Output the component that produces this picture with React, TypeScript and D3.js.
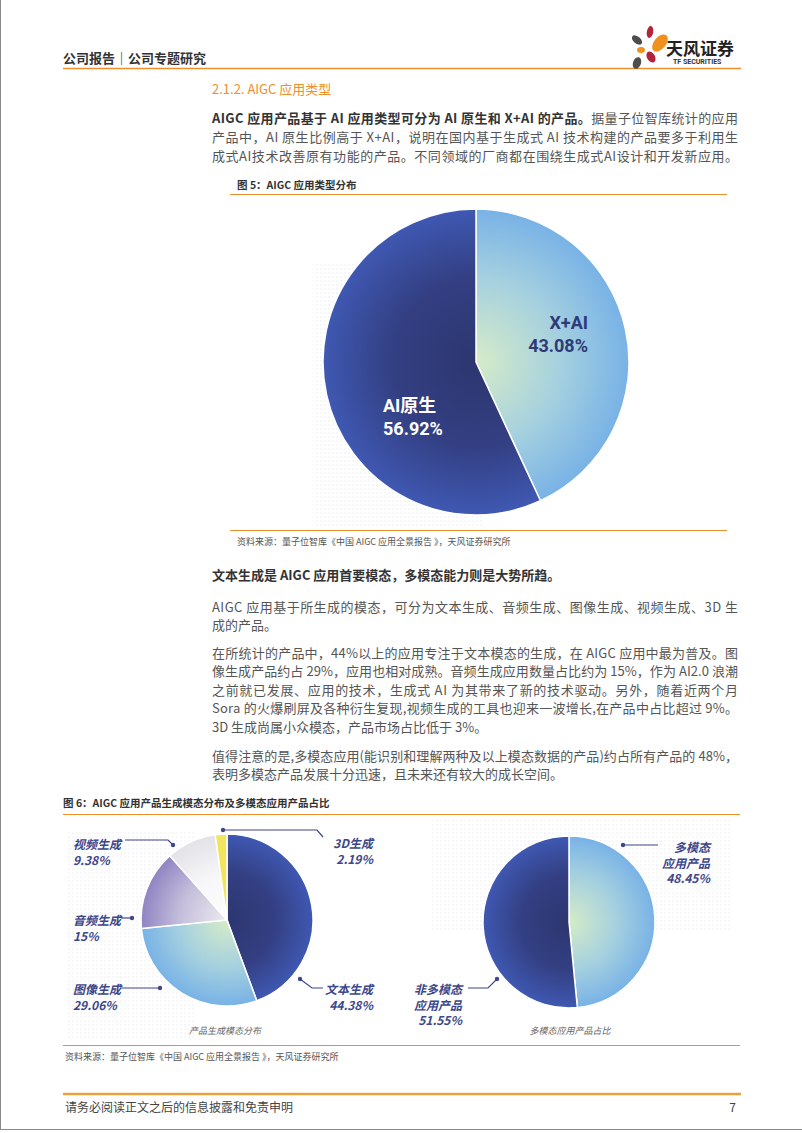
import React from 'react';
import * as d3 from 'd3';

// figure 5: AI application type
const typeLabels = ['X+AI', 'AI原生'];
const typeValues = [43.08, 56.92];

// figure 6 left: generated modality
const modalLabels = ['文本生成', '图像生成', '音频生成', '视频生成', '3D生成'];
const modalValues = [44.38, 29.06, 15, 9.38, 2.19];

// figure 6 right: multimodal share
const multiLabels = ['多模态应用产品', '非多模态应用产品'];
const multiValues = [48.45, 51.55];

const ORANGE = '#ec8f2c';
const CJK = '"Noto Sans CJK SC", "Noto Sans", sans-serif';
const LABEL = '#3d4789';

const para1 = [
  '产品中，AI 原生比例高于 X+AI，说明在国内基于生成式 AI 技术构建的产品要多于利用生',
  '成式AI技术改善原有功能的产品。不同领域的厂商都在围绕生成式AI设计和开发新应用。',
];
const para2 = [
  'AIGC 应用基于所生成的模态，可分为文本生成、音频生成、图像生成、视频生成、3D 生',
  '成的产品。',
];
const para3 = [
  '在所统计的产品中，44%以上的应用专注于文本模态的生成，在 AIGC 应用中最为普及。图',
  '像生成产品约占 29%，应用也相对成熟。音频生成应用数量占比约为 15%，作为 AI2.0 浪潮',
  '之前就已发展、应用的技术，生成式 AI 为其带来了新的技术驱动。另外，随着近两个月',
  'Sora 的火爆刷屏及各种衍生复现,视频生成的工具也迎来一波增长,在产品中占比超过 9%。',
  '3D 生成尚属小众模态，产品市场占比低于 3%。',
];
const para4 = [
  '值得注意的是,多模态应用(能识别和理解两种及以上模态数据的产品)约占所有产品的 48%，',
  '表明多模态产品发展十分迅速，且未来还有较大的成长空间。',
];

const pie = d3.pie<number>().sort(null).value(d => d);

// gradients are used inside translated groups, so they are centred on 0,0
const grad = (id: string, r: number, inner: string, mid: string, outer: string) => (
  <radialGradient id={id} gradientUnits="userSpaceOnUse" cx={0} cy={0} r={r}>
    <stop offset="0%" stopColor={inner} />
    <stop offset="55%" stopColor={mid} />
    <stop offset="100%" stopColor={outer} />
  </radialGradient>
);

const Body = ({ lines, y0, full }: { lines: string[]; y0: number; full: number }) => (
  <g>
    {lines.map((l, i) => (
      <text key={i} x={212} y={y0 + i * 18.6} fontSize={13} fill="#555" fontFamily={CJK}
        dominantBaseline="central"
        {...(i < full ? { textLength: 526, lengthAdjust: 'spacing' } : {})}>{l}</text>
    ))}
  </g>
);

const Label = ({ x, y, lines, anchor = 'start' }: { x: number; y: number; lines: string[]; anchor?: string }) => (
  <text x={x} y={y} fontSize={12} fontWeight={700} fontStyle="italic" fill={LABEL}
    fontFamily={CJK} textAnchor={anchor} dominantBaseline="central">
    {lines.map((l, i) => <tspan key={i} x={x} dy={i === 0 ? 0 : 15.5}>{l}</tspan>)}
  </text>
);

const Dot = ({ pts }: { pts: [number, number][] }) => (
  <g>
    <path d={d3.line()(pts) || ''} fill="none" stroke={LABEL} strokeWidth={1.2} />
    <circle cx={pts[pts.length - 1][0]} cy={pts[pts.length - 1][1]} r={2.2} fill={LABEL} />
  </g>
);

export default function App() {
  // fig 5 pie
  const c5 = { x: 476, y: 362, r: 153 };
  const arc5 = d3.arc<d3.PieArcDatum<number>>().innerRadius(0).outerRadius(c5.r);
  const arcs5 = pie(typeValues);
  const fill5 = ['url(#lightA)', 'url(#darkA)'];

  // fig 6 left
  const cL = { x: 227, y: 920, r: 86 };
  const arcL = d3.arc<d3.PieArcDatum<number>>().innerRadius(0).outerRadius(cL.r);
  const arcsL = pie(modalValues);
  const fillL = ['url(#darkB)', 'url(#lightB)', 'url(#purpleB)', 'url(#greyB)', '#f1e55e'];

  // fig 6 right
  const cR = { x: 569, y: 922, r: 86 };
  const arcR = d3.arc<d3.PieArcDatum<number>>().innerRadius(0).outerRadius(cR.r);
  const arcsR = pie(multiValues);
  const fillR = ['url(#lightB)', 'url(#darkB)'];

  const pct = (v: number) => `${v}%`;

  return (
    <svg width={802} height={1133} style={{ position: 'absolute', left: 0, top: 0, background: '#fff' }}>
      <defs>
        <pattern id="dots" width={4} height={4} patternUnits="userSpaceOnUse">
          <rect width={2} height={2} fill="#e3e5ec" />
        </pattern>
        {grad('darkA', c5.r, '#2c3670', '#333f82', '#3f58b2')}
        {grad('lightA', c5.r, '#d6ecc8', '#a5d0df', '#78b2e6')}
        {grad('darkB', cL.r, '#2c3670', '#333f82', '#3f58b2')}
        {grad('lightB', cL.r, '#d6ecc8', '#a5d0df', '#78b2e6')}
        {grad('purpleB', cL.r, '#ecebf0', '#c4bedb', '#8f84c2')}
        {grad('greyB', cL.r, '#fefefe', '#f6f6f8', '#e2e2e7')}
      </defs>

      {/* page edges */}
      <line x1={0.5} y1={0} x2={0.5} y2={1130} stroke="#8a8a8a" />
      <line x1={0} y1={1129.5} x2={802} y2={1129.5} stroke="#8a8a8a" />

      {/* header */}
      <text x={63} y={57} fontSize={13} fontWeight={700} fill="#333" fontFamily={CJK} dominantBaseline="central">公司报告｜公司专题研究</text>
      <line x1={63} y1={68.5} x2={741} y2={68.5} stroke={ORANGE} strokeWidth={1.5} />
      <g>
        <ellipse cx={650} cy={32} rx={3.2} ry={6} fill="#b3233b" transform="rotate(10 650 32)" />
        <ellipse cx={637} cy={40} rx={3.5} ry={6} fill="#4d4d4d" transform="rotate(-50 637 40)" />
        <ellipse cx={660} cy={43} rx={6} ry={10} fill="#f0901e" transform="rotate(40 660 43)" />
        <ellipse cx={641} cy={50} rx={4} ry={3} fill="#f0901e" />
        <ellipse cx={651} cy={57} rx={4} ry={6} fill="#b3233b" transform="rotate(-30 651 57)" />
        <ellipse cx={637} cy={63} rx={4} ry={6} fill="#4d4d4d" transform="rotate(20 637 63)" />
        <text x={666} y={47} fontSize={17} fontWeight={700} fill="#222" fontFamily={CJK} dominantBaseline="central">天风证券</text>
        <text x={673} y={62} fontSize={7} fontWeight={700} fill="#333" fontFamily="Roboto, sans-serif" dominantBaseline="central">TF SECURITIES</text>
      </g>

      {/* section heading & paragraph 1 */}
      <text x={212} y={88} fontSize={13} fill={ORANGE} fontFamily={CJK} dominantBaseline="central">2.1.2. AIGC 应用类型</text>
      <text x={212} y={117} fontSize={13} fontFamily={CJK} dominantBaseline="central" textLength={526} lengthAdjust="spacing">
        <tspan fontWeight={700} fill="#333">AIGC 应用产品基于 AI 应用类型可分为 AI 原生和 X+AI 的产品。</tspan>
        <tspan fill="#555">据量子位智库统计的应用</tspan>
      </text>
      {para1.map((l, i) => (
        <text key={i} x={212} y={136 + i * 19} fontSize={13} fill="#555" fontFamily={CJK}
          dominantBaseline="central" textLength={526} lengthAdjust="spacing">{l}</text>
      ))}

      {/* figure 5 */}
      <text x={237} y={184} fontSize={10.5} fontWeight={700} fill="#333" fontFamily={CJK} dominantBaseline="central">图 5：AIGC 应用类型分布</text>
      <line x1={230} y1={194.5} x2={727} y2={194.5} stroke={ORANGE} strokeWidth={1.2} />
      <rect x={313} y={262} width={170} height={266} fill="url(#dots)" opacity={0.35} />
      <g transform={`translate(${c5.x},${c5.y})`}>
        {arcs5.map((a, i) => (
          <path key={i} d={arc5(a) || ''} fill={fill5[i]} stroke="#fff" strokeWidth={1.5} />
        ))}
      </g>
      <text x={588} y={322} fontSize={18} fontWeight={700} fill="#2f3a78" fontFamily="Roboto, sans-serif" textAnchor="end" dominantBaseline="central">{typeLabels[0]}</text>
      <text x={588} y={345} fontSize={18} fontWeight={700} fill="#2f3a78" fontFamily="Roboto, sans-serif" textAnchor="end" dominantBaseline="central">{pct(typeValues[0])}</text>
      <text x={383} y={405} fontSize={18} fontWeight={700} fill="#fff" fontFamily={'Roboto, ' + CJK} dominantBaseline="central">{typeLabels[1]}</text>
      <text x={383} y={428} fontSize={18} fontWeight={700} fill="#fff" fontFamily="Roboto, sans-serif" dominantBaseline="central">{pct(typeValues[1])}</text>
      <line x1={230} y1={530.5} x2={727} y2={530.5} stroke={ORANGE} strokeWidth={1.2} />
      <text x={237} y={541} fontSize={9} fill="#555" fontFamily={CJK} dominantBaseline="central">资料来源：量子位智库《中国 AIGC 应用全景报告 》，天风证券研究所</text>

      {/* body text */}
      <text x={212} y={574} fontSize={13} fontWeight={700} fill="#333" fontFamily={CJK} dominantBaseline="central">文本生成是 AIGC 应用首要模态，多模态能力则是大势所趋。</text>
      <Body lines={para2} y0={606} full={1} />
      <Body lines={para3} y0={652} full={4} />
      <Body lines={para4} y0={755} full={1} />

      {/* figure 6 */}
      <text x={63} y={802} fontSize={10.5} fontWeight={700} fill="#333" fontFamily={CJK} dominantBaseline="central">图 6：AIGC 应用产品生成模态分布及多模态应用产品占比</text>
      <line x1={63} y1={814.5} x2={740} y2={814.5} stroke={ORANGE} strokeWidth={1.2} />
      <rect x={66} y={830} width={130} height={210} fill="url(#dots)" opacity={0.3} />
      <rect x={432} y={818} width={300} height={112} fill="url(#dots)" opacity={0.3} />

      <g transform={`translate(${cL.x},${cL.y})`}>
        {arcsL.map((a, i) => (
          <path key={i} d={arcL(a) || ''} fill={fillL[i]} stroke="#fff" strokeWidth={1.5} />
        ))}
      </g>
      <Dot pts={[[323, 837], [317, 830], [223, 830]]} />
      <Dot pts={[[125, 840], [168, 840], [173, 845]]} />
      <Dot pts={[[121, 918], [132, 918]]} />
      <Dot pts={[[120, 988], [160, 988]]} />
      <Dot pts={[[323, 988], [312, 988], [300, 979]]} />
      <Label x={373} y={842} anchor="end" lines={[modalLabels[4], pct(modalValues[4])]} />
      <Label x={73} y={843} lines={[modalLabels[3], pct(modalValues[3])]} />
      <Label x={73} y={919} lines={[modalLabels[2], pct(modalValues[2])]} />
      <Label x={73} y={988} lines={[modalLabels[1], pct(modalValues[1])]} />
      <Label x={373} y={988} anchor="end" lines={[modalLabels[0], pct(modalValues[0])]} />
      <text x={225} y={1030} fontSize={9} fontStyle="italic" fill="#666" fontFamily={CJK} textAnchor="middle" dominantBaseline="central">产品生成模态分布</text>

      <g transform={`translate(${cR.x},${cR.y})`}>
        {arcsR.map((a, i) => (
          <path key={i} d={arcR(a) || ''} fill={fillR[i]} stroke="#fff" strokeWidth={1.5} />
        ))}
      </g>
      <Dot pts={[[658, 845], [623, 845]]} />
      <Dot pts={[[468, 988], [488, 988], [497, 979]]} />
      <Label x={710} y={846} anchor="end" lines={[multiLabels[0].slice(0, 3), multiLabels[0].slice(3), pct(multiValues[0])]} />
      <Label x={462} y={988} anchor="end" lines={[multiLabels[1].slice(0, 4), multiLabels[1].slice(4), pct(multiValues[1])]} />
      <text x={570} y={1030} fontSize={9} fontStyle="italic" fill="#666" fontFamily={CJK} textAnchor="middle" dominantBaseline="central">多模态应用产品占比</text>

      <line x1={63} y1={1045.5} x2={740} y2={1045.5} stroke={ORANGE} strokeWidth={1.2} />
      <text x={65} y={1056} fontSize={9} fill="#555" fontFamily={CJK} dominantBaseline="central">资料来源：量子位智库《中国 AIGC 应用全景报告 》，天风证券研究所</text>

      {/* footer */}
      <line x1={63} y1={1094} x2={741} y2={1094} stroke="#e9a23b" strokeWidth={2.5} />
      <text x={65} y={1106} fontSize={12} fill="#444" fontFamily={CJK} dominantBaseline="central">请务必阅读正文之后的信息披露和免责申明</text>
      <text x={736} y={1106} fontSize={12} fill="#444" fontFamily={CJK} textAnchor="end" dominantBaseline="central">7</text>
    </svg>
  );
}
